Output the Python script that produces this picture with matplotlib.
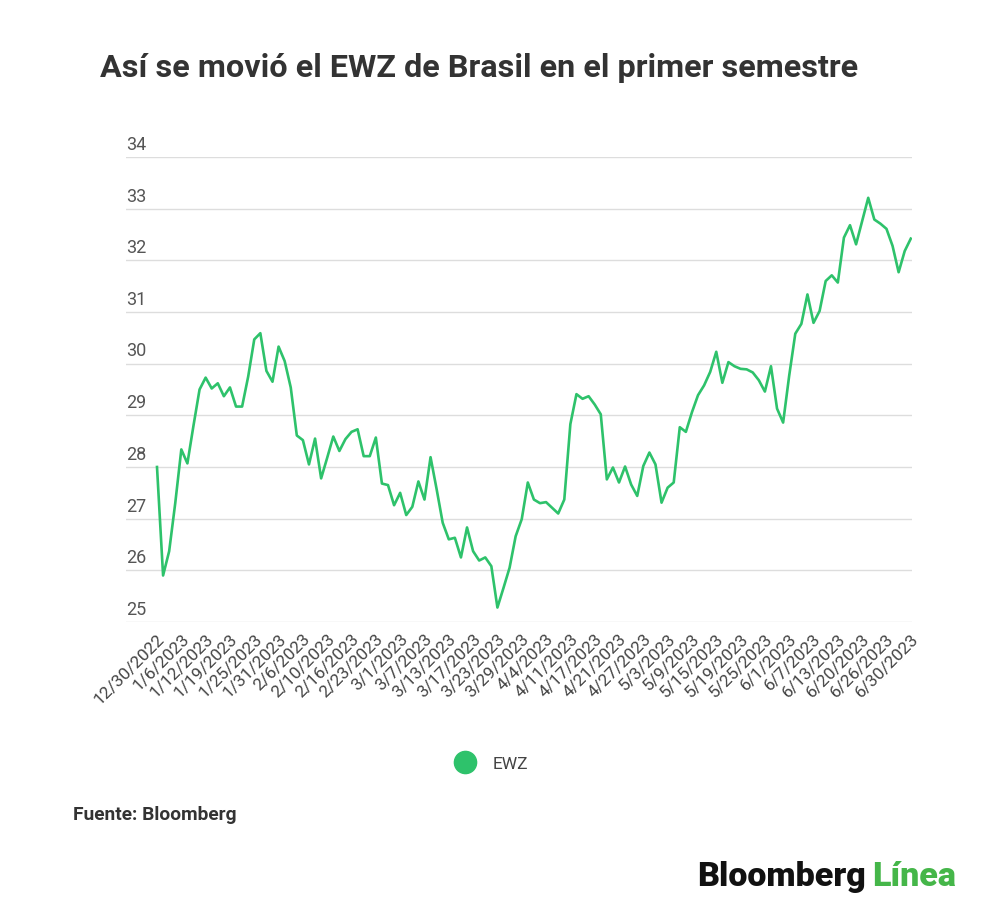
import matplotlib.pyplot as plt
import matplotlib.transforms as mtransforms
from matplotlib.lines import Line2D

plt.rcParams['font.family'] = ['Roboto', 'DejaVu Sans']

# EWZ close, one value per trading day, 12/30/2022 .. 6/30/2023
ewz = [28.0, 25.9, 26.37, 27.3, 28.34, 28.07, 28.8, 29.5, 29.73, 29.52,
       29.62, 29.37, 29.54, 29.17, 29.17, 29.75, 30.47, 30.59, 29.86, 29.65,
       30.33, 30.05, 29.54, 28.61, 28.52, 28.05, 28.55, 27.78, 28.18, 28.59,
       28.31, 28.54, 28.68, 28.73, 28.21, 28.21, 28.57, 27.68, 27.65, 27.26,
       27.50, 27.07, 27.23, 27.72, 27.37, 28.19, 27.57, 26.92, 26.60, 26.63,
       26.25, 26.83, 26.37, 26.19, 26.25, 26.08, 25.28, 25.66, 26.05, 26.66,
       26.99, 27.70, 27.37, 27.30, 27.32, 27.21, 27.10, 27.37, 28.83, 29.41,
       29.32, 29.37, 29.21, 29.02, 27.76, 27.99, 27.70, 28.01, 27.66, 27.44,
       28.02, 28.28, 28.05, 27.31, 27.60, 27.70, 28.77, 28.68, 29.06, 29.39,
       29.58, 29.84, 30.23, 29.63, 30.03, 29.95, 29.90, 29.89, 29.83, 29.68,
       29.46, 29.95, 29.13, 28.86, 29.77, 30.58, 30.77, 31.34, 30.79, 31.02,
       31.60, 31.71, 31.57, 32.44, 32.68, 32.31, 32.76, 33.21, 32.79, 32.71,
       32.61, 32.28, 31.77, 32.18, 32.42]

# labelled dates (every 4th trading day)
tick_labels = ['12/30/2022', '1/6/2023', '1/12/2023', '1/19/2023', '1/25/2023',
               '1/31/2023', '2/6/2023', '2/10/2023', '2/16/2023', '2/23/2023',
               '3/1/2023', '3/7/2023', '3/13/2023', '3/17/2023', '3/23/2023',
               '3/29/2023', '4/4/2023', '4/11/2023', '4/17/2023', '4/21/2023',
               '4/27/2023', '5/3/2023', '5/9/2023', '5/15/2023', '5/19/2023',
               '5/25/2023', '6/1/2023', '6/7/2023', '6/13/2023', '6/20/2023',
               '6/26/2023', '6/30/2023']
y_ticks = [25, 26, 27, 28, 29, 30, 31, 32, 33, 34]

green = '#2ec26b'
text_col = '#333333'

fig = plt.figure(figsize=(10, 9.2), dpi=100)
ax = fig.add_axes([0.126, 1 - 623 / 920, 0.786, (623 - 158) / 920])

x = list(range(len(ewz)))
ax.plot(x, ewz, color=green, lw=1.9, solid_joinstyle='round')

ax.set_xlim(-5.1, len(ewz) - 0.8)
ax.set_ylim(25, 34)
ax.set_yticks(y_ticks)
ax.set_yticklabels([])
ax.yaxis.grid(True, color='#dddddd', lw=1)
ax.set_axisbelow(True)
ax.tick_params(axis='y', length=0)
for s in ax.spines.values():
    s.set_visible(False)

# y labels sit above each gridline on the left
trans = mtransforms.blended_transform_factory(ax.transAxes, ax.transData)
off = mtransforms.offset_copy(trans, fig=fig, x=0, y=3, units='points')
for v in y_ticks:
    ax.text(0, v, str(v), transform=off, ha='left', va='bottom',
            fontsize=13, color='#555555')

ax.set_xticks(list(range(0, len(ewz), 4)))
ax.set_xticklabels(tick_labels, rotation=45, ha='right', rotation_mode='anchor',
                   fontsize=12.5, color='#444444')
ax.tick_params(axis='x', length=0, pad=6)

fig.text(0.100, 1 - 68 / 920, 'Así se movió el EWZ de Brasil en el primer semestre',
         fontsize=23.3, fontweight='bold', color=text_col, ha='left', va='center')

# legend
handle = Line2D([], [], marker='o', color='none', markerfacecolor=green,
                markeredgecolor=green, markersize=16)
fig.legend([handle], ['EWZ'], loc='center', bbox_to_anchor=(0.488, 1 - 764 / 920),
           frameon=False, fontsize=12.5, handletextpad=0.6, labelcolor='#444444')

fig.text(0.073, 1 - 815 / 920, 'Fuente: Bloomberg', fontsize=13.8,
         fontweight='bold', color=text_col, ha='left', va='center')

fig.text(0.697, 1 - 877 / 920, 'Bloomberg', fontsize=24.5, fontweight='heavy',
         color='#111111', ha='left', va='center')
fig.text(0.872, 1 - 877 / 920, 'Línea', fontsize=24.5, fontweight='heavy',
         color='#45b649', ha='left', va='center')

fig.savefig('out.png', dpi=100, facecolor='white')
